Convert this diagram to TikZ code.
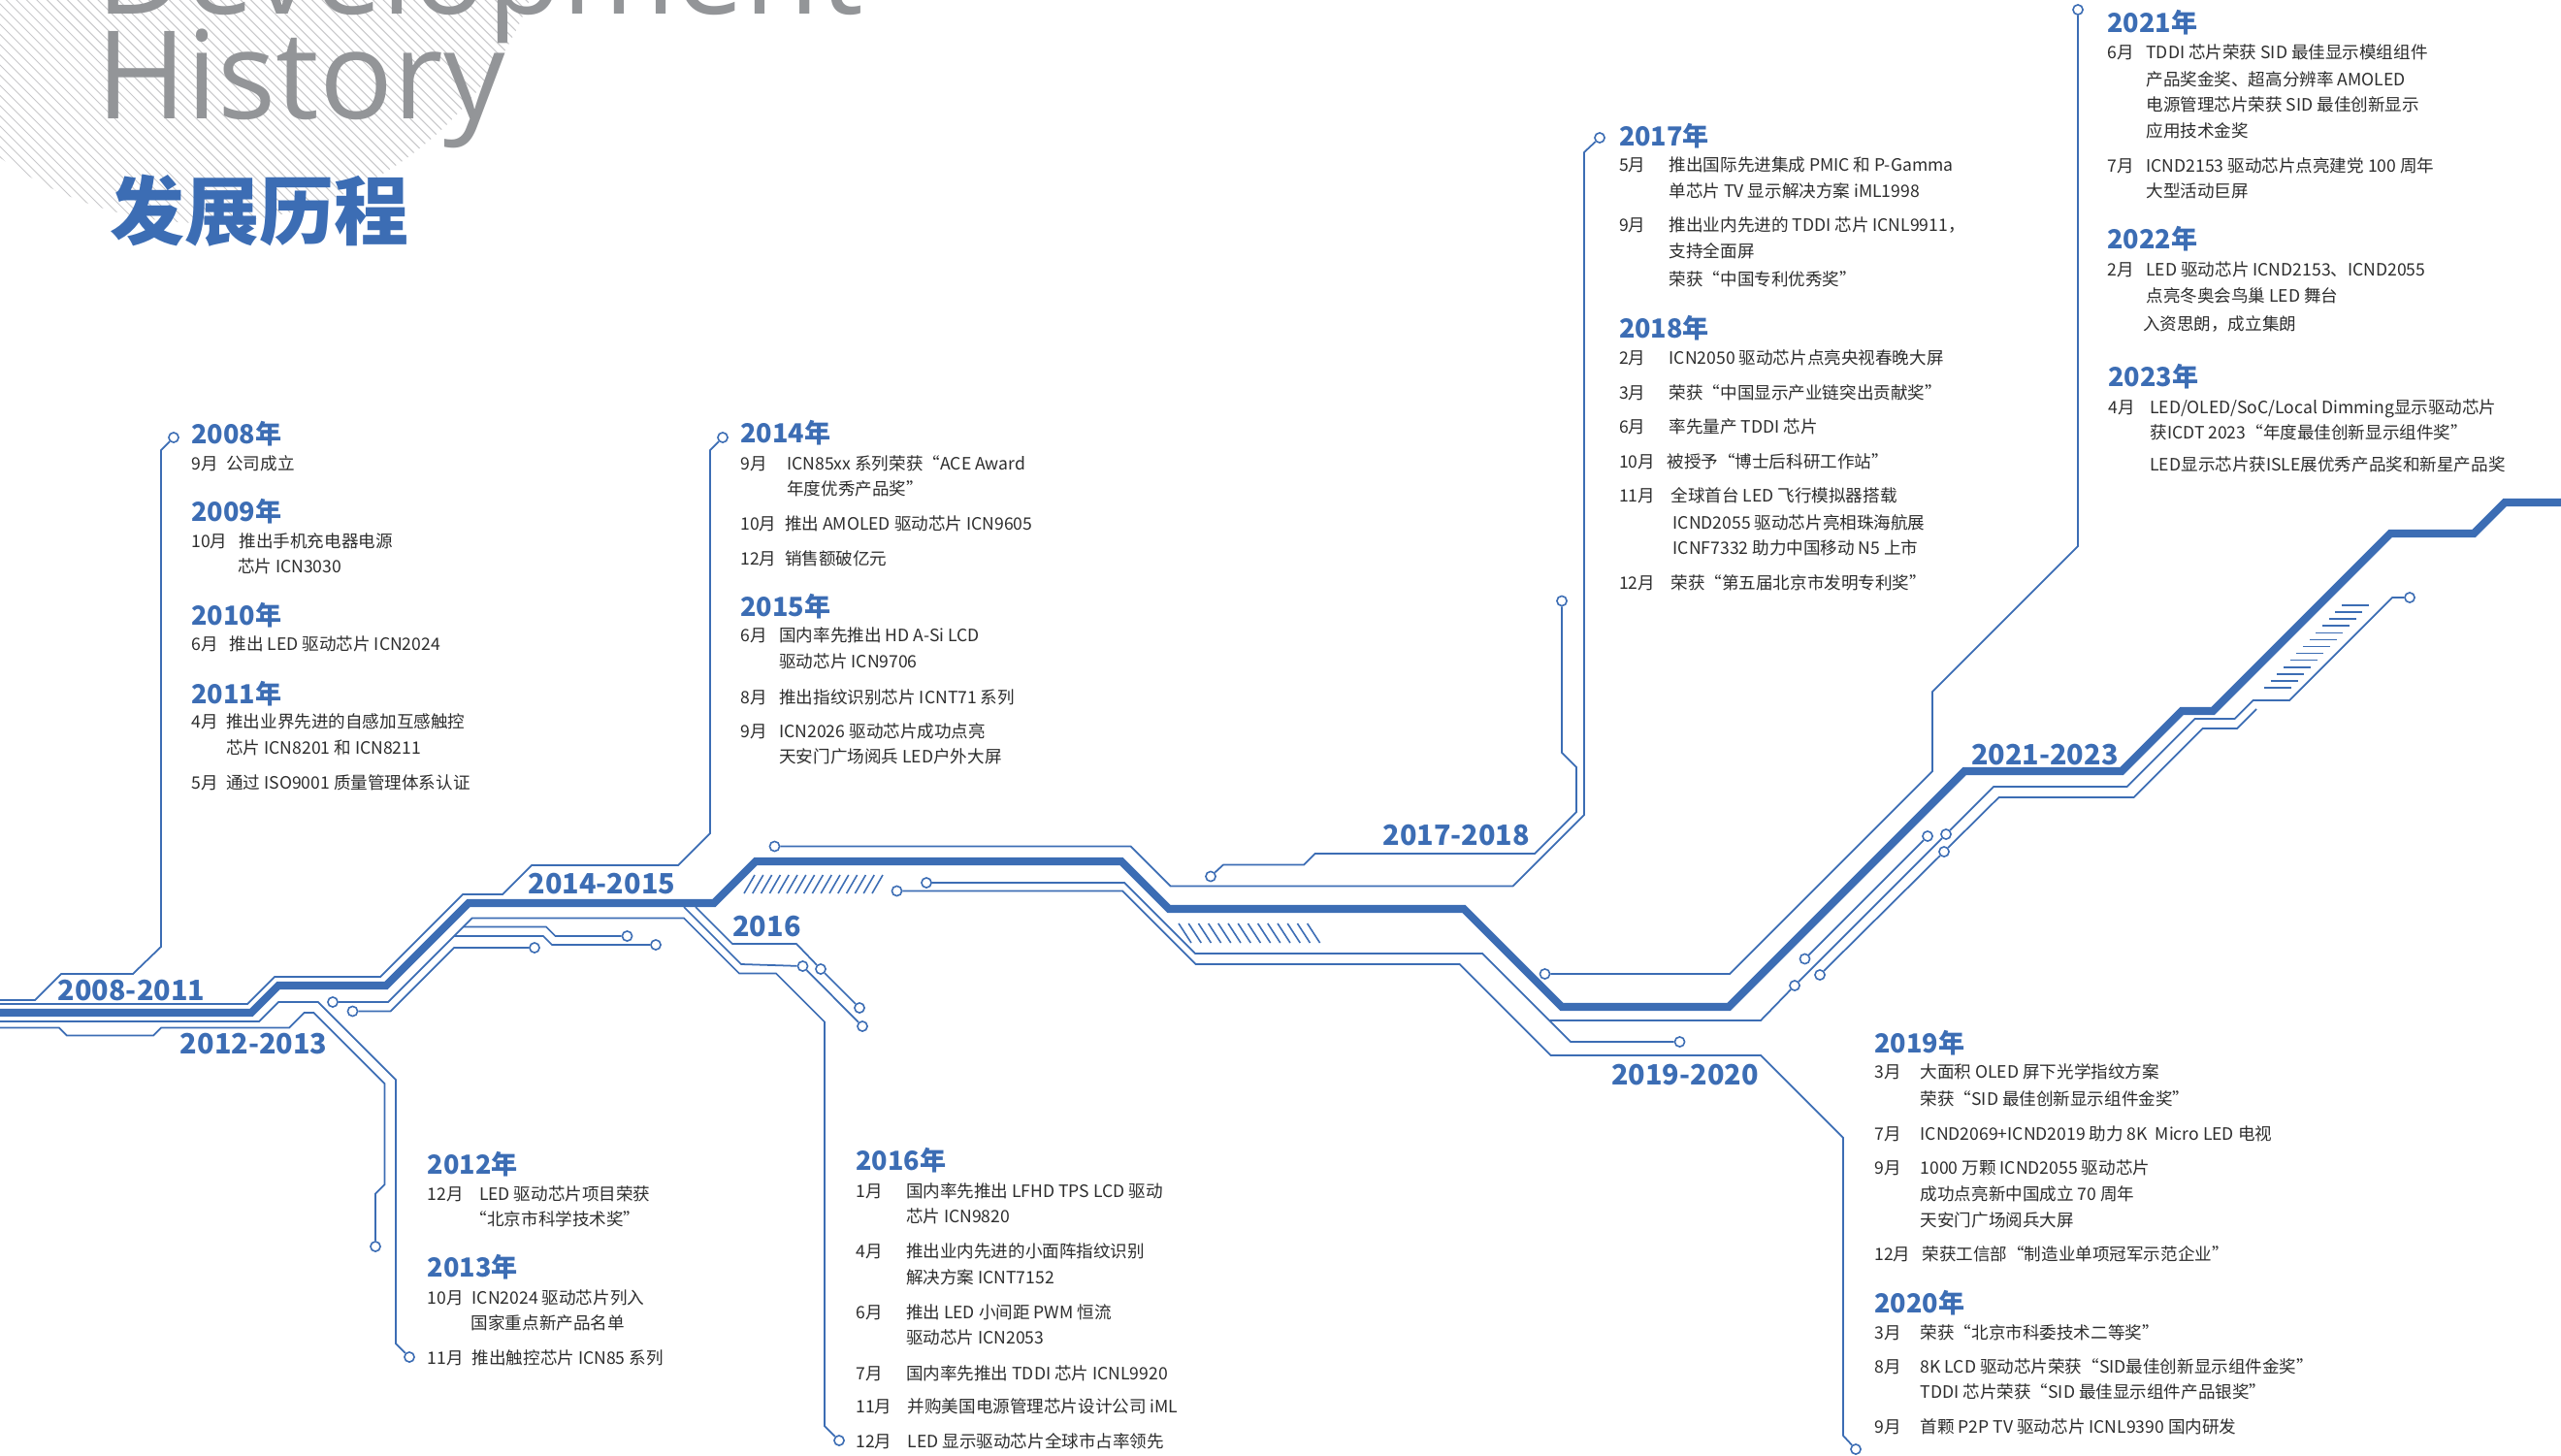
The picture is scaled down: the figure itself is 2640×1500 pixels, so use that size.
\documentclass[tikz,border=0pt]{standalone}
\usepackage{fontspec}
\setmainfont{Noto Sans CJK SC}
\newfontfamily\titlefont{Open Sans}
\definecolor{cblue}{RGB}{60,109,180}
\definecolor{ctext}{RGB}{45,45,45}
\definecolor{tgray}{RGB}{147,149,152}
\definecolor{hgray}{RGB}{200,200,202}
\tikzset{
  trace/.style={draw=cblue, line width=0.5pt},
  bus/.style={draw=cblue, line width=2.3pt},
  via/.style={circle, draw=cblue, fill=white, line width=0.45pt, minimum size=2.9pt, inner sep=0pt},
  hatchline/.style={draw=cblue, line width=0.45pt},
  body/.style={anchor=base west, inner sep=0pt, text=ctext, font=\fontsize{5pt}{6pt}\selectfont},
  yearhead/.style={anchor=base west, inner sep=0pt, text=cblue, font=\bfseries\fontsize{7.7pt}{9pt}\selectfont},
  rangelabel/.style={anchor=base, inner sep=0pt, text=cblue, font=\bfseries\fontsize{8.2pt}{9pt}\selectfont},
}
\newcommand\tlBody[4]{\node[body] (#1) at (#2,#3) {#4};}
\newcommand\tlYear[4]{\node[yearhead] (#1) at (#2,#3) {#4};}
\begin{document}
\begin{tikzpicture}[x=0.1mm,y=-0.1mm]
\useasboundingbox (0,0) rectangle (2640,1500);
\clip (0,0) rectangle (2640,1500);
% hatched disc behind the title
\begin{scope}
  \clip (210,-130) circle [radius=360];
  \foreach \k in {-700,-689.5,...,800} \draw[hgray, line width=0.3pt] (\k,-150) -- ++(600,600);
\end{scope}
\node[anchor=base west, inner sep=0pt, text=tgray, font=\titlefont\fontsize{35.9pt}{36pt}\selectfont] (dev) at (99,15) {Development};
\node[anchor=base west, inner sep=0pt, text=tgray, font=\titlefont\fontsize{35.9pt}{36pt}\selectfont] (hist) at (99,122) {History};
\node[anchor=base west, inner sep=0pt, text=cblue, font=\bfseries\fontsize{21.9pt}{22pt}\selectfont] (cn) at (113,246) {发展历程};

% main bus
\draw[bus] (-10,1044) -- (259,1044) -- (287,1016) -- (398,1016) -- (483,931) -- (736,931) -- (779,888) -- (1156,888) -- (1205,937) -- (1509,937) -- (1610,1038) -- (1782,1038) -- (2025,795) -- (2187,795) -- (2249,733) -- (2281,733) -- (2464,550) -- (2550,550) -- (2582,518) -- (2650,518);

% vias
\node[via] (v2008) at (179,451) {};
\node[via] (v2014) at (745,451) {};
\node[via] (v2013) at (422,1399) {};
\node[via] (v2012) at (387,1285) {};
\node[via] (vE) at (343,1033) {};
\node[via] (v2016) at (865,1485) {};
\node[via] (vF) at (646.5,965) {};
\node[via] (vG) at (676,974) {};
\node[via] (vH1) at (363.5,1042.5) {};
\node[via] (vH2) at (551,977) {};
\node[via] (vP1) at (827.5,996) {};
\node[via] (vP2) at (889,1058) {};
\node[via] (vQ1) at (846,999) {};
\node[via] (vQ2) at (886,1039) {};
\node[via] (v2017) at (1649,142) {};
\node[via] (vU) at (798.5,872.5) {};
\node[via] (vV1) at (1610,619.5) {};
\node[via] (vV2) at (1248,903.5) {};
\node[via] (vW1a) at (955,910) {};
\node[via] (vW1b) at (1731.5,1074) {};
\node[via] (vL2) at (1850,1016) {};
\node[via] (vU2) at (2006,860) {};
\node[via] (vTR) at (2484,616) {};
\node[via] (vW2) at (924.5,918.5) {};
\node[via] (v2020) at (1913,1494) {};
\node[via] (vL1) at (1860.5,988.5) {};
\node[via] (vU1) at (1987,862) {};
\node[via] (vL3) at (1876,1005) {};
\node[via] (vU3) at (2004,878) {};
\node[via] (v2021) at (2142,10) {};
\node[via] (v2019a) at (1592.5,1004) {};

% traces
\draw[trace] (v2008) -- (166,464) -- (166,976) -- (137,1004) -- (63,1004) -- (36,1031) -- (-10,1031);
\draw[trace] (v2014) -- (732,464) -- (732,859) -- (699,892) -- (548,892) -- (518,922) -- (477,922) -- (392,1007) -- (283,1007) -- (255,1035) -- (-10,1035);
\draw[trace] (-10,1053) -- (267,1053) -- (287,1033) -- (328,1033) -- (408,1113) -- (408,1385) -- (v2013);
\draw[trace] (-10,1059.5) -- (61,1059.5) -- (69,1067.5) -- (158,1067.5) -- (166,1059.5) -- (298,1059.5) -- (313.5,1044) -- (323.5,1044) -- (396.5,1117) -- (396.5,1221) -- (387,1230.5) -- (v2012);
\draw[trace] (vE) -- (400,1033) -- (486.5,946.5) -- (705,946.5) -- (762,1003.5) -- (800,1003.5) -- (850,1053.5) -- (850,1470) -- (v2016);
\draw[trace] (477.5,955.5) -- (563,955.5) -- (572.5,965) -- (vF);
\draw[trace] (468,965) -- (560,965) -- (569,974) -- (vG);
\draw[trace] (vH1) -- (402.5,1042.5) -- (468,977) -- (vH2);
\draw[trace] (705,935) -- (764,994) -- (vP1);
\draw[trace] (vP1) -- (vP2);
\draw[trace] (717,935) -- (755,973) -- (821,973) -- (vQ1);
\draw[trace] (vQ1) -- (vQ2);
\draw[trace] (v2017) -- (1633,157) -- (1633,840) -- (1559.5,913.5) -- (1206.5,913.5) -- (1165.5,872.5) -- (vU);
\draw[trace] (vV1) -- (1610,776) -- (1625,791) -- (1625,837) -- (1582,880) -- (1355.5,880) -- (1344,891.5) -- (1261,891.5) -- (vV2);
\draw[trace] (vW1a) -- (1159,910) -- (1232,983) -- (1528,983) -- (1619,1074) -- (vW1b);
\draw[trace] (1597,1052) -- (1815,1052) -- (vL2);
\draw[trace] (vL2) -- (vU2);
\draw[trace] (vU2) -- (2055,811) -- (2192.5,811) -- (2262.5,741) -- (2303.5,741) -- (2322.5,722) -- (2360,722) -- (2466,616) -- (vTR);
\draw[trace] (vW2) -- (1157,918.5) -- (1232.5,994) -- (1504.5,994) -- (1598.5,1088) -- (1815,1088) -- (1900,1173) -- (1900,1480) -- (v2020);
\draw[trace] (vL1) -- (vU1);
\draw[trace] (vL3) -- (vU3);
\draw[trace] (vU3) -- (2060.5,822) -- (2199.5,822) -- (2270.5,751) -- (2306,751) -- (2326,731);
\draw[trace] (v2021) -- (2142,563) -- (1992,713) -- (1992,795) -- (1783,1004) -- (v2019a);

% hatch marks
\foreach \i in {0,...,15} \draw[hatchline] ({767+\i*8.8},921) -- ++(11,-19);
\foreach \i in {0,...,13} \draw[hatchline] ({1215+\i*10.2},952) -- ++(13,20);
\foreach \i in {0,...,12} \draw[hatchline] ({2334+\i*6.67},{709-\i*7.08}) -- ++(28,0);

% range labels
\node[rangelabel] (r1) at (135.5,1031.5) {2008-2011};
\node[rangelabel] (r2) at (261.7,1086.5) {2012-2013};
\node[rangelabel] (r3) at (620.4,921.5) {2014-2015};
\node[rangelabel] (r4) at (790.5,965) {2016};
\node[rangelabel] (r5) at (1501.3,871.5) {2017-2018};
\node[rangelabel] (r6) at (1737,1118) {2019-2020};
\node[rangelabel] (r7) at (2107.8,788.4) {2021-2023};

% 2008-2011
\tlYear{y08}{196.7}{457.3}{2008年}
\tlBody{a1}{196.7}{484}{9月}
\tlBody{a2}{232.7}{484}{公司成立}
\tlYear{y09}{196.7}{537.3}{2009年}
\tlBody{a3}{196.7}{564}{10月}
\tlBody{a4}{246}{564}{推出手机充电器电源}
\tlBody{a5}{244.3}{590.7}{芯片 ICN3030}
\tlYear{y10}{196.7}{644}{2010年}
\tlBody{a6}{196.7}{670.7}{6月}
\tlBody{a7}{236}{670.7}{推出 LED 驱动芯片 ICN2024}
\tlYear{y11}{196.7}{725}{2011年}
\tlBody{a8}{196.7}{750.7}{4月}
\tlBody{a9}{232.7}{750.7}{推出业界先进的自感加互感触控}
\tlBody{a10}{232.7}{777.3}{芯片 ICN8201 和 ICN8211}
\tlBody{a11}{196.7}{813.3}{5月}
\tlBody{a12}{232.7}{813.3}{通过 ISO9001 质量管理体系认证}

% 2014-2015
\tlYear{y14}{762.7}{456.7}{2014年}
\tlBody{b1}{762.7}{484}{9月}
\tlBody{b2}{810.7}{484}{ICN85xx 系列荣获“ACE Award}
\tlBody{b3}{810.7}{510.7}{年度优秀产品奖”}
\tlBody{b4}{762.7}{546.7}{10月}
\tlBody{b5}{808.3}{546.7}{推出 AMOLED 驱动芯片 ICN9605}
\tlBody{b6}{762.7}{582.3}{12月}
\tlBody{b7}{808.3}{582.3}{销售额破亿元}
\tlYear{y15}{762.7}{635}{2015年}
\tlBody{b8}{762.7}{661.7}{6月}
\tlBody{b9}{802.7}{661.7}{国内率先推出 HD A-Si LCD}
\tlBody{b10}{802.7}{688.3}{驱动芯片 ICN9706}
\tlBody{b11}{762.7}{725}{8月}
\tlBody{b12}{802.7}{725}{推出指纹识别芯片 ICNT71 系列}
\tlBody{b13}{762.7}{760}{9月}
\tlBody{b14}{802.7}{760}{ICN2026 驱动芯片成功点亮}
\tlBody{b15}{802.7}{786.7}{天安门广场阅兵 LED户外大屏}

% 2017-2018
\tlYear{y17}{1668.3}{150}{2017年}
\tlBody{c1}{1668.3}{176.7}{5月}
\tlBody{c2}{1720}{176.7}{推出国际先进集成 PMIC 和 P-Gamma}
\tlBody{c3}{1720}{204}{单芯片 TV 显示解决方案 iML1998}
\tlBody{c4}{1668.3}{238.3}{9月}
\tlBody{c5}{1720}{238.3}{推出业内先进的 TDDI 芯片 ICNL9911，}
\tlBody{c6}{1720}{265}{支持全面屏}
\tlBody{c7}{1720}{294.3}{荣获“中国专利优秀奖”}
\tlYear{y18}{1668.3}{348.3}{2018年}
\tlBody{c8}{1668.3}{375.7}{2月}
\tlBody{c9}{1720}{375.7}{ICN2050 驱动芯片点亮央视春晚大屏}
\tlBody{c10}{1668.3}{411}{3月}
\tlBody{c11}{1720}{411}{荣获“中国显示产业链突出贡献奖”}
\tlBody{c12}{1668.3}{446.7}{6月}
\tlBody{c13}{1720}{446.7}{率先量产 TDDI 芯片}
\tlBody{c14}{1668.3}{482.3}{10月}
\tlBody{c15}{1717.7}{482.3}{被授予“博士后科研工作站”}
\tlBody{c16}{1668.3}{517.3}{11月}
\tlBody{c17}{1721.7}{517.3}{全球首台 LED 飞行模拟器搭载}
\tlBody{c18}{1724}{545}{ICND2055 驱动芯片亮相珠海航展}
\tlBody{c19}{1724}{571.7}{ICNF7332 助力中国移动 N5 上市}
\tlBody{c20}{1668.3}{607.3}{12月}
\tlBody{c21}{1721.7}{607.3}{荣获“第五届北京市发明专利奖”}

% 2021-2023
\tlYear{y21}{2171.7}{33.3}{2021年}
\tlBody{d1}{2171.7}{61}{6月}
\tlBody{d2}{2211.7}{61}{TDDI 芯片荣获 SID 最佳显示模组组件}
\tlBody{d3}{2211.7}{88.3}{产品奖金奖、超高分辨率 AMOLED}
\tlBody{d4}{2211.7}{115}{电源管理芯片荣获 SID 最佳创新显示}
\tlBody{d5}{2211.7}{141.7}{应用技术金奖}
\tlBody{d6}{2171.7}{177.3}{7月}
\tlBody{d7}{2211.7}{177.3}{ICND2153 驱动芯片点亮建党 100 周年}
\tlBody{d8}{2211.7}{204}{大型活动巨屏}
\tlYear{y22}{2171.7}{256.7}{2022年}
\tlBody{d9}{2171.7}{284}{2月}
\tlBody{d10}{2211.7}{284}{LED 驱动芯片 ICND2153、ICND2055}
\tlBody{d11}{2211.7}{311.7}{点亮冬奥会鸟巢 LED 舞台}
\tlBody{d12}{2208.3}{340}{入资思朗，成立集朗}
\tlYear{y23}{2172.7}{398.3}{2023年}
\tlBody{d13}{2172.7}{426}{4月}
\tlBody{d14}{2215.7}{426}{LED/OLED/SoC/Local Dimming显示驱动芯片}
\tlBody{d15}{2215.7}{452.7}{获ICDT 2023“年度最佳创新显示组件奖”}
\tlBody{d16}{2215.7}{485}{LED显示芯片获ISLE展优秀产品奖和新星产品奖}

% 2012-2013
\tlYear{y12}{440}{1210}{2012年}
\tlBody{e1}{440}{1237.3}{12月}
\tlBody{e2}{493.3}{1237.3}{LED 驱动芯片项目荣获}
\tlBody{e3}{484}{1263.3}{“北京市科学技术奖”}
\tlYear{y13}{440}{1316.7}{2013年}
\tlBody{e4}{440}{1344}{10月}
\tlBody{e5}{486}{1344}{ICN2024 驱动芯片列入}
\tlBody{e6}{485}{1370.7}{国家重点新产品名单}
\tlBody{e7}{440}{1406}{11月}
\tlBody{e8}{486}{1406}{推出触控芯片 ICN85 系列}

% 2016
\tlYear{y16}{881.7}{1206.7}{2016年}
\tlBody{f1}{881.7}{1234}{1月}
\tlBody{f2}{933.3}{1234}{国内率先推出 LFHD TPS LCD 驱动}
\tlBody{f3}{933.3}{1260.7}{芯片 ICN9820}
\tlBody{f4}{881.7}{1296.7}{4月}
\tlBody{f5}{933.3}{1296.7}{推出业内先进的小面阵指纹识别}
\tlBody{f6}{933.3}{1323.3}{解决方案 ICNT7152}
\tlBody{f7}{881.7}{1359}{6月}
\tlBody{f8}{933.3}{1359}{推出 LED 小间距 PWM 恒流}
\tlBody{f9}{933.3}{1385.7}{驱动芯片 ICN2053}
\tlBody{f10}{881.7}{1422.3}{7月}
\tlBody{f11}{933.3}{1422.3}{国内率先推出 TDDI 芯片 ICNL9920}
\tlBody{f12}{881.7}{1456.7}{11月}
\tlBody{f13}{935}{1456.7}{并购美国电源管理芯片设计公司 iML}
\tlBody{f14}{881.7}{1492.7}{12月}
\tlBody{f15}{935}{1492.7}{LED 显示驱动芯片全球市占率领先}

% 2019-2020
\tlYear{y19}{1931.7}{1085}{2019年}
\tlBody{g1}{1931.7}{1111.7}{3月}
\tlBody{g2}{1979}{1111.7}{大面积 OLED 屏下光学指纹方案}
\tlBody{g3}{1979}{1139}{荣获“SID 最佳创新显示组件金奖”}
\tlBody{g4}{1931.7}{1175}{7月}
\tlBody{g5}{1979}{1175}{ICND2069+ICND2019 助力 8K\ \ Micro LED 电视}
\tlBody{g6}{1931.7}{1210}{9月}
\tlBody{g7}{1979}{1210}{1000 万颗 ICND2055 驱动芯片}
\tlBody{g8}{1979}{1237.3}{成功点亮新中国成立 70 周年}
\tlBody{g9}{1979}{1264}{天安门广场阅兵大屏}
\tlBody{g10}{1931.7}{1299}{12月}
\tlBody{g11}{1980.7}{1299}{荣获工信部“制造业单项冠军示范企业”}
\tlYear{y20}{1931.7}{1353.3}{2020年}
\tlBody{g12}{1931.7}{1380}{3月}
\tlBody{g13}{1979}{1380}{荣获“北京市科委技术二等奖”}
\tlBody{g14}{1931.7}{1415}{8月}
\tlBody{g15}{1979}{1415}{8K LCD 驱动芯片荣获“SID最佳创新显示组件金奖”}
\tlBody{g16}{1979}{1441.7}{TDDI 芯片荣获“SID 最佳显示组件产品银奖”}
\tlBody{g17}{1931.7}{1477.7}{9月}
\tlBody{g18}{1979}{1477.7}{首颗 P2P TV 驱动芯片 ICNL9390 国内研发}
\end{tikzpicture}
\end{document}
